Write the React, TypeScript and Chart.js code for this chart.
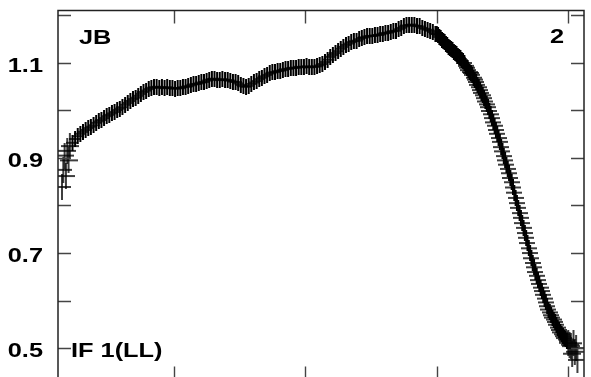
import React, { useEffect, useRef } from "react";
import { Chart, registerables } from "chart.js";

Chart.register(...registerables);

// channel positions (x) and measured amplitudes (y)
const channels: number[] = [
  15, 16, 17, 18, 19, 20, 21, 23, 25, 27, 29, 31, 33, 35, 37, 39, 41, 43, 45, 47, 49, 51, 53, 55, 57, 59, 61, 63,
  65, 67, 69, 71, 73, 75, 77, 79, 81, 83, 85, 87, 89, 91, 93, 95, 97, 99, 101, 103, 105, 107, 109, 111, 113, 115,
  117, 119, 121, 123, 125, 127, 129, 131, 133, 135, 137, 139, 141, 143, 145, 147, 149, 151, 153, 155, 157, 159,
  161, 163, 165, 167, 169, 171, 173, 175, 177, 179, 181, 183, 185, 187, 189, 191, 193, 195, 197, 199, 201, 203,
  205, 207, 209, 211, 213, 215, 217, 219, 221, 223, 225, 227, 229, 231, 233, 235, 237, 239, 241, 243, 245, 247,
  249, 251, 253, 255, 257, 259, 261, 263, 265, 267, 269, 271, 273, 275, 277, 279, 281, 283, 285, 287, 289, 291,
  293, 295, 297, 299,
  300, 301, 302, 303, 304, 305, 306, 307, 308, 309, 310, 311, 312, 313, 314, 315, 316, 317, 318, 319, 320, 321,
  322, 323, 324, 325, 326, 327, 328, 329, 330, 331, 332, 333, 334, 335, 336, 337, 338, 339, 340, 341, 342, 343,
  344, 345, 346, 347, 348, 349, 350, 351, 352, 353, 354, 355, 356, 357, 358, 359, 360, 361, 362, 363, 364, 365,
  366, 367, 368, 369, 370, 371, 372, 373, 374, 375, 376, 377, 378, 379, 380, 381, 382, 383, 384, 385, 386, 387,
  388, 389, 390, 391, 392, 393, 394, 395, 396, 397, 398, 399, 400, 401, 402, 403, 404, 405, 406, 407,
];
const amplitudes: number[] = [
  0.839, 0.875, 0.905, 0.862, 0.915, 0.895, 0.925, 0.932, 0.94, 0.946, 0.951, 0.955, 0.959, 0.963, 0.966, 0.969,
  0.974, 0.977, 0.98, 0.984, 0.988, 0.991, 0.994, 0.997, 1.001, 1.004, 1.007, 1.012, 1.016, 1.02, 1.024, 1.027,
  1.031, 1.035, 1.039, 1.042, 1.045, 1.048, 1.049, 1.05, 1.048, 1.049, 1.047, 1.049, 1.048, 1.047, 1.046, 1.047,
  1.047, 1.049, 1.05, 1.051, 1.053, 1.055, 1.056, 1.057, 1.059, 1.06, 1.063, 1.065, 1.066, 1.067, 1.065, 1.064,
  1.066, 1.065, 1.064, 1.063, 1.061, 1.06, 1.057, 1.054, 1.051, 1.05, 1.052, 1.056, 1.059, 1.062, 1.066, 1.069,
  1.072, 1.075, 1.078, 1.08, 1.081, 1.083, 1.084, 1.085, 1.087, 1.088, 1.089, 1.09, 1.09, 1.092, 1.091, 1.092,
  1.093, 1.091, 1.092, 1.092, 1.093, 1.095, 1.098, 1.102, 1.107, 1.113, 1.117, 1.121, 1.125, 1.13, 1.134, 1.138,
  1.141, 1.144, 1.146, 1.147, 1.15, 1.153, 1.154, 1.156, 1.157, 1.157, 1.158, 1.159, 1.16, 1.162, 1.163, 1.164,
  1.166, 1.167, 1.168, 1.171, 1.174, 1.177, 1.179, 1.18, 1.181, 1.179, 1.178, 1.177, 1.174, 1.172, 1.17, 1.168,
  1.165, 1.162,
  1.161, 1.159, 1.155, 1.153, 1.149, 1.147, 1.144, 1.14, 1.137, 1.134, 1.131, 1.129, 1.127, 1.123, 1.121, 1.119,
  1.115, 1.113, 1.111, 1.106, 1.104, 1.1, 1.094, 1.09, 1.085, 1.081, 1.079, 1.075, 1.069, 1.065, 1.06, 1.054,
  1.049, 1.043, 1.037, 1.032, 1.026, 1.019, 1.013, 1.007, 0.999, 0.992, 0.984, 0.975, 0.968, 0.959, 0.951, 0.942,
  0.934, 0.923, 0.914, 0.904, 0.895, 0.886, 0.877, 0.868, 0.858, 0.849, 0.838, 0.827, 0.816, 0.805, 0.795, 0.784,
  0.774, 0.763, 0.753, 0.742, 0.732, 0.721, 0.71, 0.7, 0.689, 0.679, 0.67, 0.66, 0.652, 0.643, 0.635, 0.627, 0.62,
  0.612, 0.604, 0.596, 0.588, 0.581, 0.575, 0.569, 0.564, 0.56, 0.555, 0.549, 0.543, 0.538, 0.533, 0.529, 0.525,
  0.521, 0.518, 0.515, 0.511, 0.507, 0.504, 0.488, 0.51, 0.492, 0.5, 0.475,
];
const xTicks: number[] = [100, 200, 300, 400];
const yTicks: number[] = [0.5, 0.6, 0.7, 0.8, 0.9, 1.0, 1.1, 1.2];
const yLabels: string[] = ["0.5", "0.7", "0.9", "1.1"];
const labelLeftTop = "JB";
const labelRightTop = "2";
const labelLeftBottom = "IF 1(LL)";

const FONT = 'bold 19.5px "Liberation Sans", Arial, sans-serif';
const STRETCH = 1.3;

function makeCross(hw: number, hv: number, vw: number, hwid: number): HTMLCanvasElement {
  const c = document.createElement("canvas");
  c.width = hw * 2 + 2;
  c.height = hv * 2 + 2;
  const g = c.getContext("2d")!;
  g.fillStyle = "#000";
  g.fillRect(0, hv + 1 - hwid / 2, hw * 2 + 2, hwid);
  g.fillRect(hw + 1 - vw / 2, 0, vw, hv * 2 + 2);
  return c;
}

function drawText(ctx: CanvasRenderingContext2D, text: string, x: number, y: number, align: CanvasTextAlign) {
  ctx.save();
  ctx.translate(x, y);
  ctx.scale(STRETCH, 1);
  ctx.font = FONT;
  ctx.fillStyle = "#000";
  ctx.textAlign = align;
  ctx.textBaseline = "alphabetic";
  ctx.fillText(text, 0, 0);
  ctx.restore();
}

const framePlugin = {
  id: "frame",
  afterDraw(chart: any) {
    const { ctx, chartArea } = chart;
    const xs = chart.scales.x;
    const ys = chart.scales.y;
    const { left, right, top, bottom } = chartArea;
    const tl = 13;
    ctx.save();
    ctx.strokeStyle = "#444";
    ctx.lineWidth = 1.4;
    ctx.beginPath();
    for (const v of yTicks) {
      const y = Math.round(ys.getPixelForValue(v)) + 0.5;
      ctx.moveTo(left, y);
      ctx.lineTo(left + tl, y);
      ctx.moveTo(right, y);
      ctx.lineTo(right - tl, y);
    }
    for (const v of xTicks) {
      const x = Math.round(xs.getPixelForValue(v)) + 0.5;
      ctx.moveTo(x, top);
      ctx.lineTo(x, top + tl);
      ctx.moveTo(x, bottom);
      ctx.lineTo(x, bottom - tl);
    }
    ctx.stroke();
    ctx.strokeStyle = "#222";
    ctx.lineWidth = 1.5;
    ctx.strokeRect(left, top, right - left, bottom - top);
    ctx.restore();

    for (const lab of yLabels) {
      const y = ys.getPixelForValue(parseFloat(lab));
      drawText(ctx, lab, 43, y + 9, "right");
    }
    drawText(ctx, labelLeftTop, 79, 43.5, "left");
    drawText(ctx, labelRightTop, 564, 43, "right");
    drawText(ctx, labelLeftBottom, 71, 357, "left");
  },
};

export default function App() {
  const ref = useRef<HTMLCanvasElement | null>(null);
  useEffect(() => {
    if (!ref.current) return;
    const n = channels.length;
    const small = makeCross(5, 7, 2, 1.5);
    const mid = makeCross(7, 7, 2, 1.5);
    const big = makeCross(8, 12, 1.5, 1.5);
    const chart = new Chart(ref.current, {
      type: "scatter",
      data: {
        datasets: [
          {
            data: channels.map((c, i) => ({ x: c, y: amplitudes[i] })),
            pointStyle: (ctx: any) => {
              const i = ctx.dataIndex;
              if (i < 7 || i > n - 9) return big;
              if (channels[i] > 320) return mid;
              return small;
            },
            pointRadius: 6,
            borderColor: "#000",
            backgroundColor: "#000",
            showLine: false,
          },
        ],
      },
      options: {
        responsive: false,
        animation: false,
        layout: { padding: { left: 58, top: 10.5, right: 1, bottom: 10.5 } },
        plugins: { legend: { display: false }, tooltip: { enabled: false } },
        scales: {
          x: { type: "linear", min: 12, max: 412, display: false },
          y: { type: "linear", min: 0.4337, max: 1.2105, display: false },
        },
      },
      plugins: [framePlugin],
    });
    return () => chart.destroy();
  }, []);
  return (
    <div style={{ position: "fixed", left: 0, top: 0, width: 591, height: 390, background: "#fff" }}>
      <canvas ref={ref} width={591} height={390} style={{ display: "block" }} />
    </div>
  );
}
